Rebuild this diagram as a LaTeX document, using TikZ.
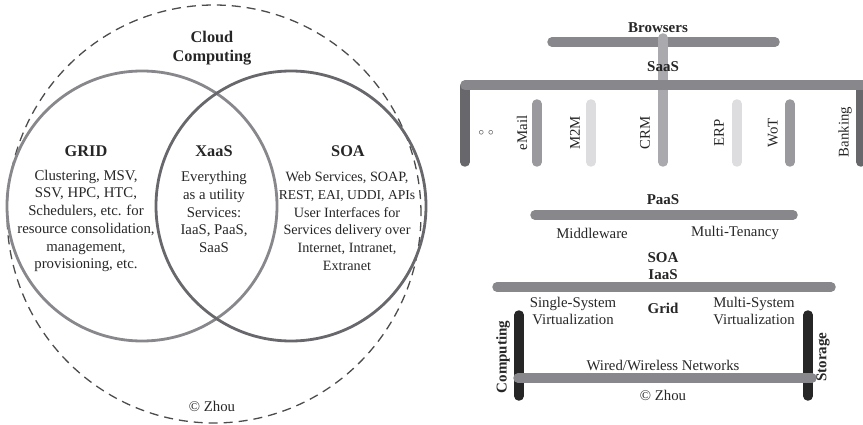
\documentclass[tikz,border=0pt]{standalone}
\usepackage{fontspec}
\setmainfont{Liberation Serif}
\definecolor{barmid}{HTML}{88888C}
\definecolor{barlight}{HTML}{AAAAAE}
\definecolor{bardark}{HTML}{68686C}
\definecolor{barpale}{HTML}{DDDDE0}
\definecolor{barsoft}{HTML}{9A9A9E}
\definecolor{ink}{HTML}{262626}
\begin{document}
\begin{tikzpicture}[x=1pt,y=-1pt,
  txt/.style={font=\fontsize{14.8}{17.7}\selectfont, text=ink, align=center, inner sep=0pt},
  btxt/.style={font=\fontsize{15}{17.7}\selectfont\bfseries, text=ink, align=center, inner sep=0pt},
  bigb/.style={font=\fontsize{16.3}{19}\selectfont\bfseries, text=ink, align=center, inner sep=0pt},
  bar/.style={line width=9.5pt, line cap=round},
]
\useasboundingbox (0,0) rectangle (863,425);
% ---------- left: Venn ----------
\draw[dash pattern=on 9pt off 6pt, line width=1.3pt, black!70] (214,214) ellipse [x radius=207pt, y radius=209pt];
\draw[line width=2.8pt, color=barmid] (142,206) circle [radius=135pt];
\draw[line width=2.8pt, color=bardark] (291,206) circle [radius=135pt];
\node[bigb] (cc) at (212,48) {Cloud\\Computing};
\node[bigb] (grid) at (86,151) {GRID};
\node[bigb] (xaas) at (214,151) {XaaS};
\node[bigb] (soa) at (348,151) {SOA};
\node[txt] (gridt) at (86,221) {Clustering, MSV,\\SSV, HPC, HTC,\\Schedulers, etc. for\\resource consolidation,\\management,\\provisioning, etc.};
\node[txt] (xaast) at (214,212) {Everything\\as a utility\\Services:\\IaaS, PaaS,\\SaaS};
\node[txt, font=\fontsize{14.2}{17.7}\selectfont] (soat) at (347,221) {Web Services, SOAP,\\{\fontsize{13.6}{17.7}\selectfont REST, EAI, UDDI, APIs}\\User Interfaces for\\Services delivery over\\Internet, Intranet,\\Extranet};
\node[txt] (cz1) at (212,406) {© Zhou};
% ---------- right: stack ----------
\draw[bar, barmid] (552,42) -- (775,42);
\draw[bar, barlight] (663,38) -- (663,162);
\draw[bar, bardark] (465,86) -- (465,162);
\draw[bar, bardark] (861,86) -- (861,162);
\draw[bar, barmid] (465,85) -- (880,85);
\draw[bar, barsoft] (537,104) -- (537,162);
\draw[bar, barpale] (591,104) -- (591,162);
\draw[bar, barpale] (737,104) -- (737,162);
\draw[bar, barsoft] (790,104) -- (790,162);
\node[btxt] (br) at (658,28) {Browsers};
\node[btxt] (saas) at (663,67) {SaaS};
\node[txt] (dots) at (486,133) {\fontsize{11}{11}\selectfont$\circ$\hspace{4pt}$\circ$};
\node[txt, rotate=90] (email) at (522,133) {eMail};
\node[txt, rotate=90] (m2m) at (575,133) {M2M};
\node[txt, rotate=90] (crm) at (645,133) {CRM};
\node[txt, rotate=90] (erp) at (719,133) {ERP};
\node[txt, rotate=90] (wot) at (773,133) {WoT};
\node[txt, rotate=90] (bank) at (845,132) {Banking};
\node[btxt] (paas) at (663,200) {PaaS};
\draw[bar, barmid] (535,215) -- (793,215);
\node[txt] (mw) at (592,233) {Middleware};
\node[txt] (mt) at (735,233) {Multi-Tenancy};
\node[btxt] (soa2) at (663,266) {SOA\\IaaS};
\draw[bar, barmid] (497,287) -- (831,287);
\node[txt] (ssv) at (573,311) {Single-System\\Virtualization};
\node[btxt] (gridr) at (663,308) {Grid};
\node[txt] (msv) at (754,311) {Multi-System\\Virtualization};
\draw[bar, ink] (519,315) -- (519,396);
\draw[bar, ink] (808,315) -- (808,396);
\draw[bar, barmid] (518,378) -- (812,378);
\node[btxt, rotate=90] (comp) at (503,357) {Computing};
\node[btxt, rotate=90] (stor) at (823,357) {Storage};
\node[txt] (net) at (663,365) {Wired/Wireless Networks};
\node[txt] (cz2) at (663,395) {© Zhou};
\end{tikzpicture}
\end{document}
